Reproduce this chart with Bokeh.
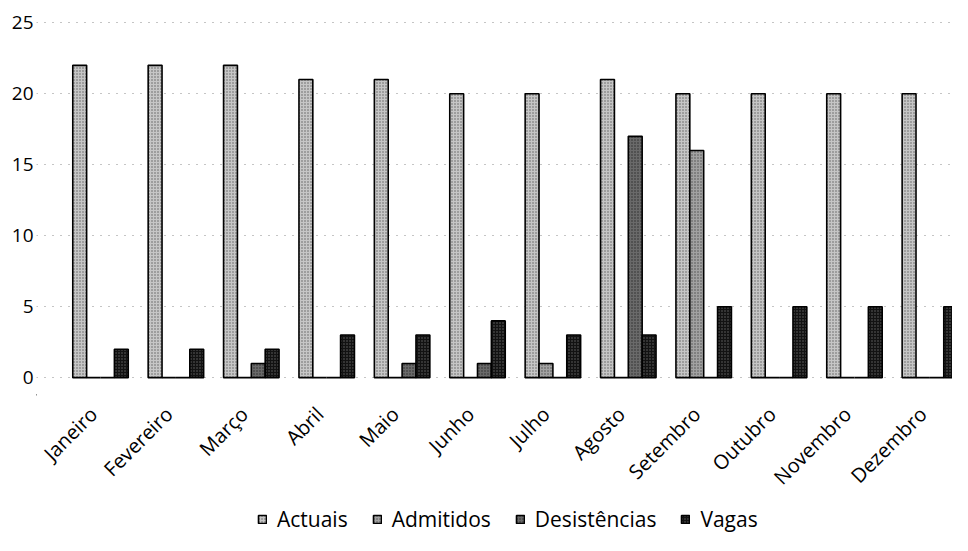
import math
from bokeh.plotting import figure
from bokeh.layouts import column
from bokeh.models import ColumnDataSource, Legend, LegendItem, FixedTicker, Range1d
from bokeh.embed import file_html
from bokeh.resources import INLINE

months = ["Janeiro", "Fevereiro", "Março", "Abril", "Maio", "Junho",
          "Julho", "Agosto", "Setembro", "Outubro", "Novembro", "Dezembro"]
actuais = [22, 22, 22, 21, 21, 20, 20, 21, 20, 20, 20, 20]
admitidos = [0, 0, 0, 0, 0, 0, 1, 0, 16, 0, 0, 0]
desistencias = [0, 0, 1, 0, 1, 1, 0, 17, 0, 0, 0, 0]
vagas = [2, 2, 2, 3, 3, 4, 3, 3, 5, 5, 5, 5]
y_ticks = [0, 5, 10, 15, 20, 25]

series = [
    ("Actuais", actuais, "#c6c6c6", "#333333"),
    ("Admitidos", admitidos, "#a2a2a2", "#2a2a2a"),
    ("Desistências", desistencias, "#6a6a6a", "#111111"),
    ("Vagas", vagas, "#121212", "#8a8a8a"),
]
offsets = [-0.276, -0.092, 0.092, 0.276]

FONT = "Open Sans"
W = 952
H_MAIN = 394
H_BOTTOM = 141
x_range = Range1d(-0.849, 11.30)

p = figure(width=W, height=H_MAIN, output_backend="svg", toolbar_location=None,
           x_range=x_range, y_range=Range1d(-0.2, 25.3), x_axis_type=None,
           min_border_left=36, min_border_right=0, min_border_top=18,
           min_border_bottom=14)
p.outline_line_color = None
p.background_fill_color = "white"

# bottom strip: month labels (rotated) and legend
p2 = figure(width=W, height=H_BOTTOM, output_backend="svg", toolbar_location=None,
            x_axis_type=None, y_axis_type=None,
            x_range=x_range, y_range=Range1d(H_BOTTOM, 0),
            min_border_left=0, min_border_right=0,
            min_border_top=0, min_border_bottom=0)
p2.outline_line_color = None
p2.xgrid.visible = False
p2.ygrid.visible = False

xs = list(range(len(months)))
items = []
for (name, vals, fill, hatch), off in zip(series, offsets):
    style = dict(fill_color=fill, line_color="black", line_width=1.6,
                 hatch_pattern="dot", hatch_color=hatch, hatch_scale=3,
                 hatch_weight=0.8, hatch_alpha=0.7)
    src = ColumnDataSource(dict(x=[i + off for i in xs], top=vals))
    p.vbar(x="x", top="top", bottom=0, width=0.184, source=src, **style)
    dummy = ColumnDataSource(dict(x=[-100], top=[0]))
    r2 = p2.vbar(x="x", top="top", bottom=0, width=0.1, source=dummy, **style)
    items.append(LegendItem(label=name, renderers=[r2]))

label_src = ColumnDataSource(dict(x=xs, text=months))
p2.text(x="x", y=16, text="text", source=label_src, angle=math.pi / 4,
        text_align="right", text_baseline="middle", x_offset=-7,
        text_font={"value": FONT}, text_font_size="20px", text_color="black")

p.xgrid.visible = False
p.ygrid.grid_line_color = "#8a8a8a"
p.ygrid.grid_line_dash = "1 7"
p.ygrid.grid_line_width = 1
p.ygrid.ticker = FixedTicker(ticks=y_ticks)

p.yaxis.ticker = FixedTicker(ticks=y_ticks)
p.yaxis.axis_line_color = None
p.yaxis.major_tick_line_color = None
p.yaxis.minor_tick_line_color = None
p.yaxis.major_tick_out = 0
p.yaxis.major_tick_in = 0
p.yaxis.major_label_text_font = FONT
p.yaxis.major_label_text_font_size = "19px"
p.yaxis.major_label_text_color = "black"
p.yaxis.major_label_standoff = 3

legend = Legend(items=items, orientation="horizontal", location=(221, 2),
                label_text_font=FONT, label_text_font_size="21px",
                label_text_color="black", label_standoff=10,
                label_height=20, glyph_width=10, glyph_height=10, spacing=24,
                padding=0, margin=0,
                border_line_color=None, background_fill_alpha=0)
p2.add_layout(legend, "center")

layout = column(p, p2, spacing=0)
open("out.html", "w").write(file_html(layout, INLINE))
